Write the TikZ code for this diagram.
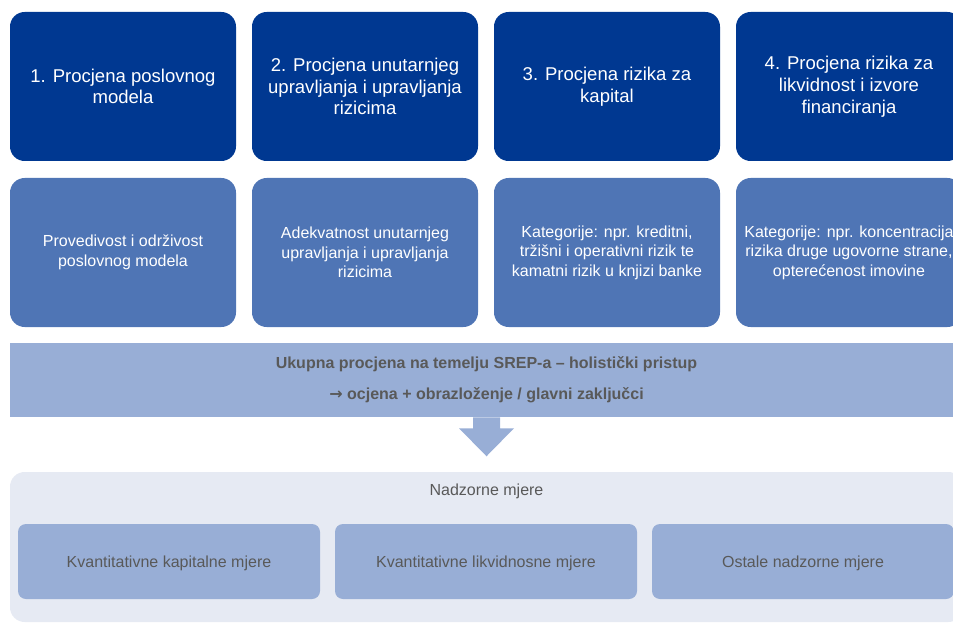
\documentclass[tikz,border=0pt]{standalone}
\usepackage{fontspec}
\setmainfont{Liberation Sans}
\newfontfamily\strelica{DejaVu Sans}
\usepackage{tikz}

\definecolor{tamnoplava}{RGB}{0,56,145}
\definecolor{srednjeplava}{RGB}{79,117,181}
\definecolor{svijetloplava}{RGB}{152,174,214}
\definecolor{pozadina}{RGB}{230,234,243}
\definecolor{sivitekst}{RGB}{89,89,89}

\begin{document}
\begin{tikzpicture}[x=0.75pt, y=-0.75pt,
    kutija/.style={rounded corners=11pt, minimum width=169.5pt, minimum height=111.75pt,
        inner sep=0pt, align=center, text=white},
    glavni/.style={kutija, fill=tamnoplava, font=\fontsize{13.9}{16.3}\selectfont},
    opis/.style={kutija, fill=srednjeplava, font=\fontsize{12}{14.6}\selectfont},
    mjera/.style={fill=svijetloplava, rounded corners=6pt, minimum width=226.5pt,
        minimum height=56.25pt, inner sep=0pt, text depth=0pt, text=sivitekst,
        font=\fontsize{12}{14}\selectfont}]

    \useasboundingbox (0,0) rectangle (953,631);

    % cetiri elementa procjene
    \node[glavni] (p1) at (123,86.5) {1. Procjena poslovnog\\modela};
    \node[glavni] (p2) at (365,86.5) {2. Procjena unutarnjeg\\upravljanja i upravljanja\\rizicima};
    \node[glavni] (p3) at (607,86.5) {3. Procjena rizika za\\kapital};
    \node[glavni] (p4) at (849,86.5) {4. Procjena rizika za\\likvidnost i izvore\\financiranja};

    \node[opis] (o1) at (123,252.5) {Provedivost i održivost\\poslovnog modela};
    \node[opis] (o2) at (365,252.5) {Adekvatnost unutarnjeg\\upravljanja i upravljanja\\rizicima};
    \node[opis] (o3) at (607,252.5) {Kategorije: npr. kreditni,\\tržišni i operativni rizik te\\kamatni rizik u knjizi banke};
    \node[opis] (o4) at (849,252.5) {Kategorije: npr. koncentracija\\rizika druge ugovorne strane,\\opterećenost imovine};

    % ukupna procjena
    \node[fill=svijetloplava, minimum width=714.75pt, minimum height=55.5pt, inner sep=0pt,
        align=center, text=sivitekst, font=\bfseries\fontsize{12}{23.2}\selectfont]
        (ukupno) at (486.5,380) {Ukupna procjena na temelju SREP-a – holistički pristup\\{\strelica\bfseries →} ocjena + obrazloženje / glavni zaključci};

    \fill[svijetloplava] (ukupno.south) ++(-13.5,0) -- ++(27,0) -- ++(0,11) -- ++(14,0)
        -- ++(-27.5,28) -- ++(-27.5,-28) -- ++(14,0) -- cycle;

    % nadzorne mjere
    \node[fill=pozadina, rounded corners=11pt, minimum width=714.75pt, minimum height=112.5pt,
        inner sep=0pt] (nadzor) at (486.5,547) {};
    \node[text=sivitekst, text depth=0pt, font=\fontsize{12}{14}\selectfont] (naslov) at (486.5,490) {Nadzorne mjere};

    \node[mjera] (m1) at (169,561.5) {Kvantitativne kapitalne mjere};
    \node[mjera] (m2) at (486,561.5) {Kvantitativne likvidnosne mjere};
    \node[mjera] (m3) at (803,561.5) {Ostale nadzorne mjere};

\end{tikzpicture}
\end{document}
